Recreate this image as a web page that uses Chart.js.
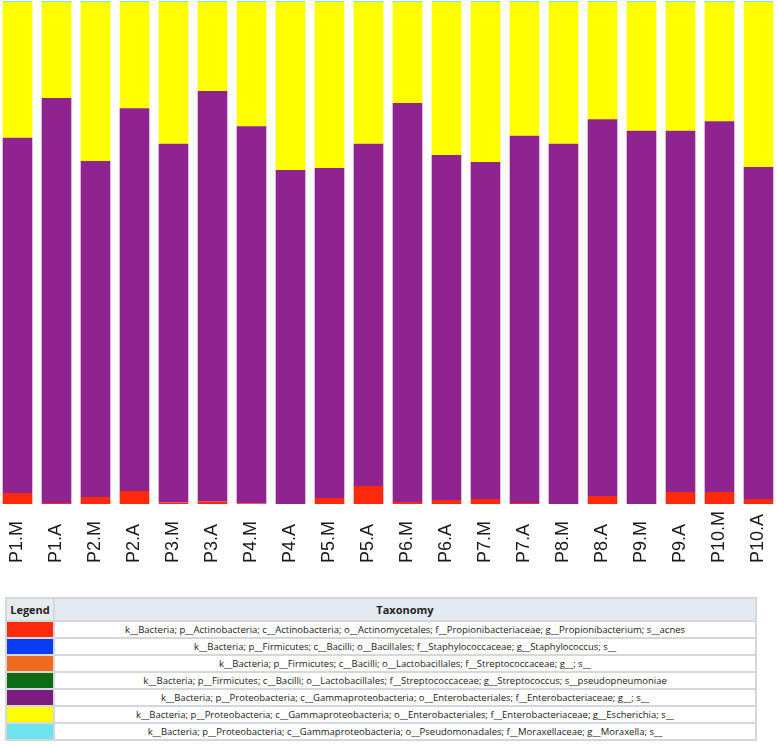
<!DOCTYPE html>
<html>
<head>
<meta charset="utf-8">
<script src="https://cdn.jsdelivr.net/npm/chart.js@4.4.1/dist/chart.umd.min.js"></script>
<style>
  html, body { margin: 0; padding: 0; background: #fff; overflow: hidden; width: 778px; height: 745px; }
  #wrap { position: absolute; left: -2px; top: 0; width: 780px; height: 580px; }
  #legendTable {
    position: absolute; left: 5px; top: 597px; width: 752px;
    border-collapse: separate; border-spacing: 2px; background: #d5d8db;
    font-family: "Open Sans", "Liberation Sans", sans-serif; font-size: 9.5px; color: #222;
  }
  #legendTable td, #legendTable th { padding: 0; background: #fff; height: 15px; line-height: 13px; text-align: center; }
  #legendTable th { height: 21px; font-weight: bold; font-size: 11px; background: #e3eaf2; }
  #legendTable th.lg { background: #e8ebee; width: 46px; }
  #legendTable td.sw { width: 46px; }
</style>
</head>
<body>
<div id="wrap"><canvas id="chart" width="780" height="580"></canvas></div>
<table id="legendTable">
  <thead><tr><th class="lg">Legend</th><th>Taxonomy</th></tr></thead>
  <tbody id="legendBody"></tbody>
</table>
<script>
// samples
const samples = ['P1.M','P1.A','P2.M','P2.A','P3.M','P3.A','P4.M','P4.A','P5.M','P5.A',
                 'P6.M','P6.A','P7.M','P7.A','P8.M','P8.A','P9.M','P9.A','P10.M','P10.A'];

// relative abundance (%)
const propionibacterium = [2.2, 0.2, 1.4, 2.6, 0.3, 0.5, 0.1, 0, 1.2, 3.6, 0.4, 0.8, 1.0, 0.2, 0, 1.6, 0, 2.4, 2.4, 1.0];
const staphylococcus    = [0, 0, 0, 0, 0, 0, 0, 0, 0, 0, 0, 0, 0, 0, 0, 0, 0, 0, 0, 0];
const streptococcaceae  = [0, 0, 0, 0, 0, 0, 0, 0, 0, 0, 0, 0, 0, 0, 0, 0, 0, 0, 0, 0];
const streptococcus     = [0, 0, 0, 0, 0, 0, 0, 0, 0, 0, 0, 0, 0, 0, 0, 0, 0, 0, 0, 0];
const enterobacteriaceae = [70.6, 80.5, 66.8, 76.1, 71.3, 81.6, 75.0, 66.4, 65.6, 68.0,
                            79.3, 68.6, 67.0, 73.0, 71.6, 74.9, 74.2, 71.8, 73.7, 66.0];
const escherichia       = [27.0, 19.1, 31.6, 21.1, 28.2, 17.7, 24.7, 33.4, 33.0, 28.2,
                           20.1, 30.4, 31.8, 26.6, 28.2, 23.3, 25.6, 25.6, 23.7, 32.8];
const moraxella         = [0.2, 0.2, 0.2, 0.2, 0.2, 0.2, 0.2, 0.2, 0.2, 0.2,
                           0.2, 0.2, 0.2, 0.2, 0.2, 0.2, 0.2, 0.2, 0.2, 0.2];

const taxa = [
  'k__Bacteria; p__Actinobacteria; c__Actinobacteria; o__Actinomycetales; f__Propionibacteriaceae; g__Propionibacterium; s__acnes',
  'k__Bacteria; p__Firmicutes; c__Bacilli; o__Bacillales; f__Staphylococcaceae; g__Staphylococcus; s__',
  'k__Bacteria; p__Firmicutes; c__Bacilli; o__Lactobacillales; f__Streptococcaceae; g__; s__',
  'k__Bacteria; p__Firmicutes; c__Bacilli; o__Lactobacillales; f__Streptococcaceae; g__Streptococcus; s__pseudopneumoniae',
  'k__Bacteria; p__Proteobacteria; c__Gammaproteobacteria; o__Enterobacteriales; f__Enterobacteriaceae; g__; s__',
  'k__Bacteria; p__Proteobacteria; c__Gammaproteobacteria; o__Enterobacteriales; f__Enterobacteriaceae; g__Escherichia; s__',
  'k__Bacteria; p__Proteobacteria; c__Gammaproteobacteria; o__Pseudomonadales; f__Moraxellaceae; g__Moraxella; s__'
];
const barColors = ['#fb2a0a', '#0a3cf5', '#f06b22', '#0d6b14', '#8f2490', '#ffff00', '#80e0e8'];
const swatchColors = ['#fb2a0a', '#0a3cf5', '#f06b22', '#0d6b14', '#7a1d7e', '#ffff00', '#6de3ef'];
const series = [propionibacterium, staphylococcus, streptococcaceae, streptococcus,
                enterobacteriaceae, escherichia, moraxella];

// legend table
const body = document.getElementById('legendBody');
taxa.forEach((t, i) => {
  const tr = document.createElement('tr');
  const sw = document.createElement('td');
  sw.className = 'sw';
  sw.style.background = swatchColors[i];
  const txt = document.createElement('td');
  txt.textContent = t;
  tr.appendChild(sw);
  tr.appendChild(txt);
  body.appendChild(tr);
});

// rotated sample labels, start-aligned at the bottom
const sampleLabels = {
  id: 'sampleLabels',
  afterDraw(chart) {
    const ctx = chart.ctx;
    const xs = chart.scales.x;
    ctx.save();
    ctx.font = '18px "Liberation Sans", Arial, sans-serif';
    ctx.fillStyle = '#1a1a1a';
    ctx.textAlign = 'left';
    ctx.textBaseline = 'middle';
    samples.forEach((s, i) => {
      ctx.save();
      ctx.translate(xs.getPixelForValue(i), 563);
      ctx.rotate(-Math.PI / 2);
      ctx.fillText(s, 0, 0);
      ctx.restore();
    });
    ctx.restore();
  }
};

new Chart(document.getElementById('chart'), {
  type: 'bar',
  data: {
    labels: samples,
    datasets: series.map((d, i) => ({
      label: taxa[i],
      data: d,
      backgroundColor: barColors[i],
      borderWidth: 0,
      barPercentage: 0.76,
      categoryPercentage: 1.0
    }))
  },
  options: {
    responsive: false,
    animation: false,
    layout: { padding: { top: 1, left: 0, right: 0, bottom: 0 } },
    plugins: { legend: { display: false }, tooltip: { enabled: false } },
    scales: {
      x: {
        stacked: true,
        grid: { display: false },
        border: { display: false },
        ticks: { display: false },
        afterFit: (scale) => { scale.height = 76; }
      },
      y: {
        stacked: true,
        display: false,
        min: 0,
        max: 100
      }
    }
  },
  plugins: [sampleLabels]
});
</script>
</body>
</html>
